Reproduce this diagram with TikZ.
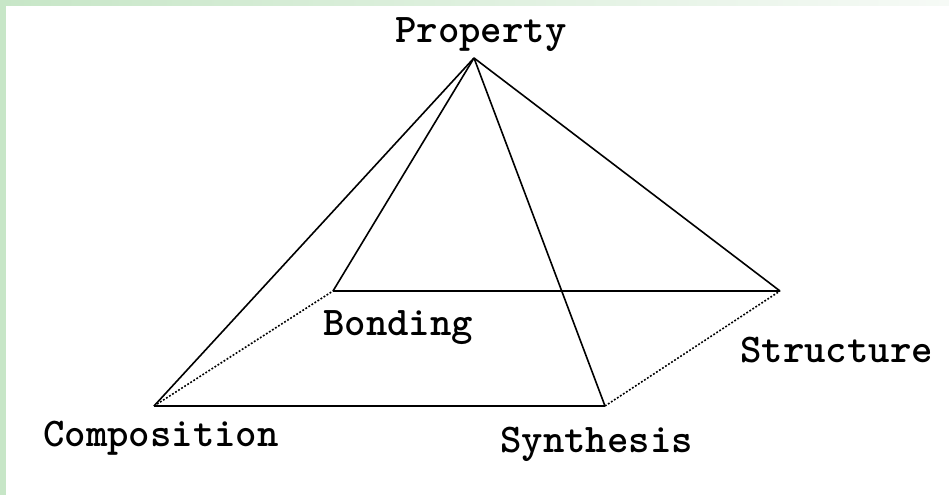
\documentclass[tikz,border=0pt]{standalone}
\usepackage{tikz}
\usetikzlibrary{positioning}
\definecolor{cFrame}{RGB}{199,230,199}
\definecolor{cFrameEnd}{RGB}{246,250,246}
\tikzset{
	edge/.style     ={line width=1.6pt, black, line join=round},
	hidden/.style   ={line width=1.6pt, black, dash pattern=on 1.8pt off 1.8pt},
	vlabel/.style   ={anchor=base west, inner sep=0pt, font=\ttfamily\bfseries\fontsize{40.8}{41}\selectfont},
}
\begin{document}
\begin{tikzpicture}[x=1pt, y=-1pt]
	\useasboundingbox (0,0) rectangle (949,495);
	\fill[white] (0,0) rectangle (949,495);
	% frame
	\shade[left color=cFrame, right color=cFrameEnd] (0,0) rectangle (949,6);
	\fill[cFrame] (0,0) rectangle (6,495);
	% corners of the pyramid
	\coordinate (pr) at (474,58);
	\coordinate (bo) at (333,291);
	\coordinate (st) at (780,291);
	\coordinate (co) at (154,406);
	\coordinate (sy) at (605,406);
	\draw[edge] (pr) -- (co);
	\draw[edge] (pr) -- (bo);
	\draw[edge] (pr) -- (sy);
	\draw[edge] (pr) -- (st);
	\draw[edge] (bo) -- (st);
	\draw[edge] (co) -- (sy);
	\draw[hidden] (co) -- (bo);
	\draw[hidden] (sy) -- (st);
	% labels
	\node[vlabel] (lpr) at (395,42) {Property};
	\node[vlabel] (lbo) at (323,335) {Bonding};
	\node[vlabel] (lst) at (740,362) {Structure};
	\node[vlabel] (lco) at (43,446) {Composition};
	\node[vlabel] (lsy) at (500,452) {Synthesis};
\end{tikzpicture}
\end{document}
